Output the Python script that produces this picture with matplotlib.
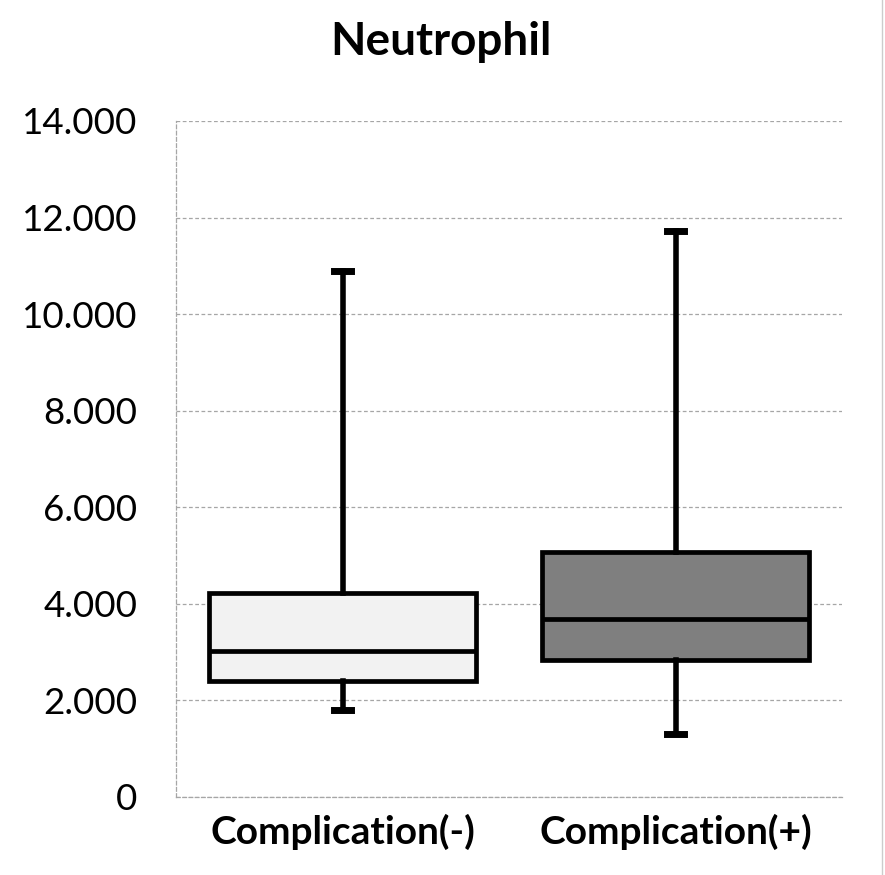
import matplotlib
matplotlib.use("Agg")
import matplotlib.pyplot as plt
from matplotlib.ticker import FuncFormatter

# values
groups = ["Complication(-)", "Complication(+)"]
whislo = [1800, 1300]
q1 = [2400, 2840]
med = [3020, 3690]
q3 = [4220, 5070]
whishi = [10900, 11720]
fills = ["#f2f2f2", "#7f7f7f"]
yticks = [0, 2000, 4000, 6000, 8000, 10000, 12000, 14000]

plt.rcParams['font.family'] = ['Lato', 'DejaVu Sans']

fig = plt.figure(figsize=(8.85, 8.75), dpi=100)
ax = fig.add_axes([176/885, 78/875, 666/885, 676/875])

stats = []
for i, g in enumerate(groups):
    stats.append(dict(label=g, whislo=whislo[i], q1=q1[i], med=med[i],
                      q3=q3[i], whishi=whishi[i], fliers=[]))

bp = ax.bxp(stats, positions=[0, 1], widths=0.8, patch_artist=True,
            showfliers=False, zorder=3,
            boxprops=dict(edgecolor="black", linewidth=3.4),
            medianprops=dict(color="black", linewidth=3.4),
            whiskerprops=dict(color="black", linewidth=4),
            capprops=dict(color="black", linewidth=5),
            capwidths=0.05)
for patch, c in zip(bp["boxes"], fills):
    patch.set_facecolor(c)

ax.set_xlim(-0.5, 1.5)
ax.set_ylim(0, 14000)
ax.set_yticks(yticks)
ax.yaxis.set_major_formatter(FuncFormatter(lambda v, p: "0" if v == 0 else f"{int(v):,}".replace(",", ".")))
ax.grid(axis="y", color="#a6a6a6", linestyle=(0, (3, 2)), linewidth=0.9, zorder=0)
for s in ["top", "right"]:
    ax.spines[s].set_visible(False)
for s in ["left", "bottom"]:
    ax.spines[s].set_color("#a6a6a6")
    ax.spines[s].set_linestyle((0, (3, 2)))
    ax.spines[s].set_linewidth(0.9)
ax.tick_params(length=0)
ax.tick_params(axis="y", labelsize=26.5, pad=28)
ax.tick_params(axis="x", labelsize=28, pad=12)
for t in ax.get_xticklabels():
    t.set_fontweight("bold")

fig.text(441/885, 1 - 42/875, "Neutrophil", ha="center", va="center",
         fontsize=33, fontweight="bold")
fig.add_artist(plt.Line2D([882/885, 882/885], [0, 1], color="#cccccc", linewidth=1))

fig.savefig("out.png", dpi=100)
